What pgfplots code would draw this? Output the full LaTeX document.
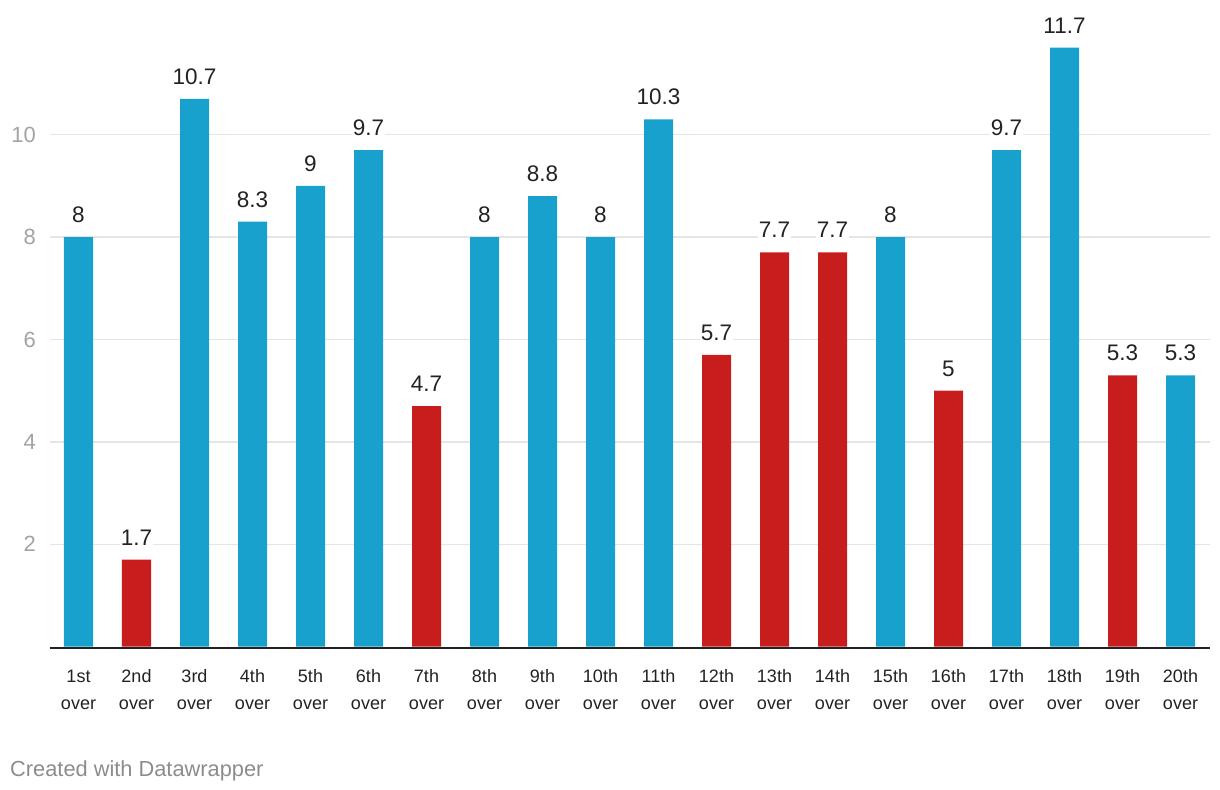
\documentclass[border=0pt]{standalone}
\usepackage{pgfplots}
\pgfplotsset{compat=1.18}
\usepackage{fontspec}
\setmainfont{Liberation Sans}
\definecolor{barblue}{HTML}{18A1CD}
\definecolor{barred}{HTML}{C71E1D}
\definecolor{gridgray}{HTML}{E5E5E5}
\definecolor{tickgray}{HTML}{A3A3A3}
\definecolor{labeldark}{HTML}{222222}
\definecolor{footgray}{HTML}{8C8C8C}
\begin{document}
\begin{tikzpicture}
\path[use as bounding box] (-49.5bp,-143.3bp) rectangle (1170.5bp,646.7bp);
\begin{axis}[
  at={(0,0)}, anchor=south west,
  scale only axis, width=1160bp, height=614.4bp,
  xmin=-0.5, xmax=19.5, ymin=0, ymax=12,
  clip=false,
  axis line style={draw=none},
  tick style={draw=none},
  ymajorgrids, grid style={line width=1.5bp, color=gridgray},
  ytick={2,4,6,8,10},
  xtick={0,...,19},
  xticklabels={{1st\\over},{2nd\\over},{3rd\\over},{4th\\over},{5th\\over},{6th\\over},{7th\\over},{8th\\over},{9th\\over},{10th\\over},{11th\\over},{12th\\over},{13th\\over},{14th\\over},{15th\\over},{16th\\over},{17th\\over},{18th\\over},{19th\\over},{20th\\over}},
  xticklabel style={align=center, anchor=base, inner sep=0pt, yshift=-58.6bp, font=\fontsize{18bp}{27.5bp}\selectfont, text=labeldark},
  yticklabel style={anchor=east, inner sep=0pt, xshift=-13.5bp, font=\fontsize{22bp}{26bp}\selectfont, text=tickgray},
  /pgf/number format/assume math mode=true,
  ybar, bar shift=0pt, bar width=29bp,
  nodes near coords,
  every node near coord/.append style={anchor=base, yshift=14.5bp, font=\fontsize{22.5bp}{27bp}\selectfont, text=labeldark, fill=white, inner sep=1bp},
]
\addplot[draw=none, fill=barblue] coordinates {
 (0,8) (2,10.7) (3,8.3) (4,9) (5,9.7) (7,8) (8,8.8) (9,8) (10,10.3) (14,8) (16,9.7) (17,11.7) (19,5.3)};
\addplot[draw=none, fill=barred] coordinates {
 (1,1.7) (6,4.7) (11,5.7) (12,7.7) (13,7.7) (15,5) (18,5.3)};
\draw[line width=2bp, color=labeldark] ([yshift=-1bp]axis cs:-0.5,0) -- ([yshift=-1bp]axis cs:19.5,0);
\end{axis}
\node[anchor=base west, inner sep=0pt, text=footgray, font=\fontsize{21.8bp}{26bp}\selectfont] at (-39.5bp,-129.3bp) {Created with Datawrapper};
\end{tikzpicture}
\end{document}
